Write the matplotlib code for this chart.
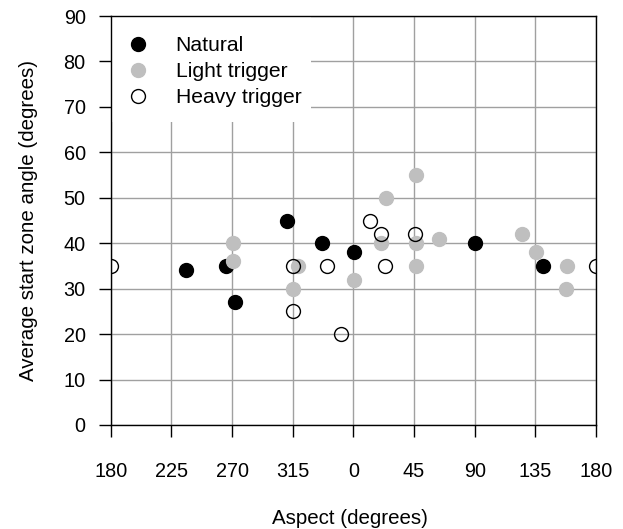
import matplotlib
matplotlib.use("Agg")
import matplotlib.pyplot as plt
from matplotlib.patches import Rectangle
from matplotlib.lines import Line2D

plt.rcParams['font.family'] = ['Liberation Sans', 'DejaVu Sans']

# Aspect measured continuously from 180 (so 360 = North/0, 540 = 180 again)
natural_aspect = [236, 265.5, 272, 310.5, 337, 360.6, 450.6, 500.7]
natural_angle = [34, 35, 27, 45, 40, 38, 40, 35]

light_aspect = [270.4, 270.4, 315, 318.8, 360.4, 384, 380.2, 406.3, 406.3, 406.3,
                423.2, 485.4, 495.8, 518.8, 518]
light_angle = [40, 36, 30, 35, 32, 50, 40, 40, 35, 55, 41, 42, 38, 35, 30]

heavy_aspect = [180, 315, 315, 340.1, 350.5, 372.2, 380.2, 383.3, 405.6, 540]
heavy_angle = [35, 35, 25, 35, 20, 45, 42, 35, 42, 35]

xtick_pos = [180, 225, 270, 315, 360, 405, 450, 495, 540]
xtick_labels = ['180', '225', '270', '315', '0', '45', '90', '135', '180']
ytick_vals = [0, 10, 20, 30, 40, 50, 60, 70, 80, 90]

fig = plt.figure(figsize=(6.23, 5.29), dpi=100)
ax = fig.add_axes([110.7 / 623, (529 - 425) / 529, (596 - 110.7) / 623, (425 - 16) / 529])

ax.set_xlim(180, 540)
ax.set_ylim(0, 90)
ax.set_xticks(xtick_pos)
ax.set_xticklabels(xtick_labels)
ax.set_yticks(ytick_vals)

ax.set_axisbelow(True)
ax.grid(True, color='#a0a0a0', linewidth=1.0)

for s in ax.spines.values():
    s.set_color('black')
    s.set_linewidth(1.0)

ax.tick_params(axis='x', direction='out', length=8.6, width=1.0, pad=18, labelsize=14.3)
ax.tick_params(axis='y', direction='out', length=9.0, width=1.0, pad=9, labelsize=14.3)

ms = 10
ax.plot(natural_aspect, natural_angle, 'o', color='black', markersize=ms, zorder=3)
ax.plot(light_aspect, light_angle, 'o', color='#bfbfbf', markersize=ms, zorder=4)
ax.plot(heavy_aspect, heavy_angle, 'o', markerfacecolor='none', markeredgecolor='black',
        markeredgewidth=1.0, markersize=ms, zorder=5)

ax.add_patch(Rectangle((0, 0.741), 0.4127, 0.259, transform=ax.transAxes,
                       facecolor='white', edgecolor='none', zorder=1.5))

handles = [
    Line2D([], [], linestyle='none', marker='o', color='black', markersize=ms),
    Line2D([], [], linestyle='none', marker='o', color='#bfbfbf', markersize=ms),
    Line2D([], [], linestyle='none', marker='o', markerfacecolor='white',
           markeredgecolor='black', markeredgewidth=1.0, markersize=ms),
]
leg = ax.legend(handles, ['Natural', 'Light trigger', 'Heavy trigger'],
                loc='upper left', bbox_to_anchor=(0, 1 - 11.7 / 409), borderaxespad=0,
                frameon=False, fontsize=15.2, handlelength=1.76, handletextpad=0.92,
                labelspacing=0.33, borderpad=0.4)
leg.set_zorder(6)

ax.set_xlabel('Aspect (degrees)', fontsize=14.8)
ax.xaxis.set_label_coords((350 - 110.7) / 485.3, (425 - 509) / 409)
ax.set_ylabel('Average start zone angle (degrees)', fontsize=14.8)
ax.yaxis.set_label_coords((38 - 110.7) / 485.3, 0.5)

fig.savefig('out.png', dpi=100)
